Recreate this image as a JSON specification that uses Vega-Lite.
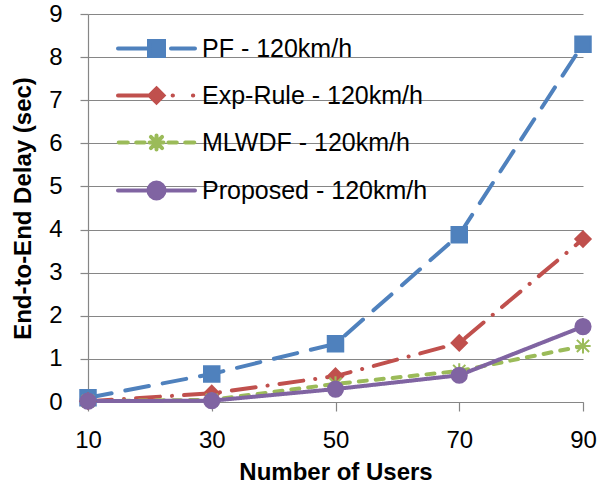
{
  "$schema": "https://vega.github.io/schema/vega-lite/v6.json",
  "width": 495,
  "height": 388,
  "autosize": {"type": "none"},
  "padding": {"left": 88, "top": 14, "right": 17, "bottom": 83},
  "background": "white",
  "config": {
    "view": {"stroke": null},
    "font": "Liberation Sans",
    "axis": {
      "labelFont": "Liberation Sans",
      "titleFont": "Liberation Sans",
      "labelFontSize": 24,
      "titleFontSize": 24,
      "labelColor": "#000000",
      "titleColor": "#000000",
      "titleFontWeight": "bold",
      "domainColor": "#868686",
      "tickColor": "#868686",
      "gridColor": "#868686",
      "domainWidth": 1.2,
      "tickWidth": 1.2,
      "gridWidth": 1.2
    }
  },
  "data": {
    "values": [
      {"users": 10, "delay": 0.1, "series": "PF - 120km/h"},
      {"users": 30, "delay": 0.65, "series": "PF - 120km/h"},
      {"users": 50, "delay": 1.35, "series": "PF - 120km/h"},
      {"users": 70, "delay": 3.88, "series": "PF - 120km/h"},
      {"users": 90, "delay": 8.3, "series": "PF - 120km/h"},
      {"users": 10, "delay": 0.02, "series": "Exp-Rule - 120km/h"},
      {"users": 30, "delay": 0.2, "series": "Exp-Rule - 120km/h"},
      {"users": 50, "delay": 0.6, "series": "Exp-Rule - 120km/h"},
      {"users": 70, "delay": 1.37, "series": "Exp-Rule - 120km/h"},
      {"users": 90, "delay": 3.78, "series": "Exp-Rule - 120km/h"},
      {"users": 10, "delay": 0.02, "series": "MLWDF - 120km/h"},
      {"users": 30, "delay": 0.05, "series": "MLWDF - 120km/h"},
      {"users": 50, "delay": 0.42, "series": "MLWDF - 120km/h"},
      {"users": 70, "delay": 0.72, "series": "MLWDF - 120km/h"},
      {"users": 90, "delay": 1.3, "series": "MLWDF - 120km/h"},
      {"users": 10, "delay": 0.02, "series": "Proposed - 120km/h"},
      {"users": 30, "delay": 0.03, "series": "Proposed - 120km/h"},
      {"users": 50, "delay": 0.3, "series": "Proposed - 120km/h"},
      {"users": 70, "delay": 0.62, "series": "Proposed - 120km/h"},
      {"users": 90, "delay": 1.75, "series": "Proposed - 120km/h"}
    ]
  },
  "encoding": {
    "x": {
      "field": "users",
      "type": "quantitative",
      "scale": {"domain": [10, 90], "nice": false, "zero": false},
      "axis": {
        "title": "Number of Users",
        "values": [10, 30, 50, 70, 90],
        "grid": false,
        "tickSize": 9,
        "labelPadding": 17,
        "titlePadding": 8,
        "labelFlush": false
      }
    },
    "y": {
      "field": "delay",
      "type": "quantitative",
      "scale": {"domain": [0, 9], "nice": false},
      "axis": {
        "title": "End-to-End Delay (sec)",
        "values": [0, 1, 2, 3, 4, 5, 6, 7, 8, 9],
        "grid": true,
        "tickSize": 8,
        "labelPadding": 18,
        "titlePadding": 13
      }
    }
  },
  "layer": [
    {
      "mark": {"type": "line", "strokeWidth": 4, "strokeCap": "round", "strokeJoin": "round"},
      "encoding": {
        "color": {
          "field": "series",
          "type": "nominal",
          "scale": {
            "domain": ["PF - 120km/h", "Exp-Rule - 120km/h", "MLWDF - 120km/h", "Proposed - 120km/h"],
            "range": ["#4F81BD", "#C0504D", "#9BBB59", "#8064A2"]
          },
          "legend": null
        },
        "strokeDash": {
          "field": "series",
          "type": "nominal",
          "scale": {
            "domain": ["PF - 120km/h", "Exp-Rule - 120km/h", "MLWDF - 120km/h", "Proposed - 120km/h"],
            "range": [[24, 14], [24, 12, 0.1, 12], [8, 9], [1, 0]]
          },
          "legend": null
        }
      }
    },
    {
      "mark": {"type": "point", "filled": true, "strokeWidth": 2, "opacity": 1},
      "encoding": {
        "shape": {
          "field": "series",
          "type": "nominal",
          "scale": {
            "domain": ["PF - 120km/h", "Exp-Rule - 120km/h", "MLWDF - 120km/h", "Proposed - 120km/h"],
            "range": ["square", "diamond", "M0,-1V1M-0.8,-0.8L0.8,0.8M-0.8,0.8L0.8,-0.8M-1,0H1", "circle"]
          },
          "legend": null
        },
        "size": {
          "field": "series",
          "type": "nominal",
          "scale": {
            "domain": ["PF - 120km/h", "Exp-Rule - 120km/h", "MLWDF - 120km/h", "Proposed - 120km/h"],
            "range": [240, 230, 210, 250]
          },
          "legend": null
        },
        "fill": {
          "field": "series",
          "type": "nominal",
          "scale": {
            "domain": ["PF - 120km/h", "Exp-Rule - 120km/h", "MLWDF - 120km/h", "Proposed - 120km/h"],
            "range": ["#4F81BD", "#C0504D", "#9BBB59", "#8064A2"]
          },
          "legend": null
        },
        "stroke": {
          "field": "series",
          "type": "nominal",
          "scale": {
            "domain": ["PF - 120km/h", "Exp-Rule - 120km/h", "MLWDF - 120km/h", "Proposed - 120km/h"],
            "range": ["#4F81BD", "#C0504D", "#9BBB59", "#8064A2"]
          },
          "legend": null
        }
      }
    },
    {
      "transform": [{"filter": "datum.users < 0"}],
      "mark": {"type": "point", "filled": false},
      "encoding": {
        "shape": {
          "field": "series",
          "type": "nominal",
          "scale": {
            "domain": ["PF - 120km/h", "Exp-Rule - 120km/h", "MLWDF - 120km/h", "Proposed - 120km/h"],
            "range": [
              "M-5.5,0H-1.07M2.07,0H5.5M-1.07,-1.07H1.07V1.07H-1.07Z",
              "M-5.5,0H-0.9M2.3,0H2.35M5.2,0H5.25M0,-1L1,0L0,1L-1,0Z",
              "M-5.4,0H-4.1M-2.9,0H-1.7M1.7,0H2.9M4.1,0H5.4M0,-1V1M-0.8,-0.8L0.8,0.8M-0.8,0.8L0.8,-0.8M-1,0H1",
              "M-5.5,0H5.5M-1.15,0A1.15,1.15 0 1,0 1.15,0A1.15,1.15 0 1,0 -1.15,0Z"
            ]
          },
          "legend": {
            "title": null,
            "orient": "none",
            "legendX": 56,
            "legendY": 22,
            "padding": 0,
            "symbolSize": 196,
            "symbolStrokeWidth": 4,
            "symbolOpacity": 1,
            "labelFont": "Liberation Sans",
            "labelFontSize": 25,
            "labelColor": "#000000",
            "labelOffset": 33,
            "rowPadding": 16,
            "labelLimit": 400,
            "encoding": {
              "symbols": {
                "fill": {"value": {"expr": "datum.value == 'PF - 120km/h' ? '#4F81BD' : datum.value == 'Exp-Rule - 120km/h' ? '#C0504D' : datum.value == 'MLWDF - 120km/h' ? '#9BBB59' : '#8064A2'"}},
                "stroke": {"value": {"expr": "datum.value == 'PF - 120km/h' ? '#4F81BD' : datum.value == 'Exp-Rule - 120km/h' ? '#C0504D' : datum.value == 'MLWDF - 120km/h' ? '#9BBB59' : '#8064A2'"}},
                "strokeCap": {"value": "round"},
                "opacity": {"value": 1}
              }
            }
          }
        }
      }
    }
  ],
  "resolve": {"scale": {"shape": "independent", "size": "independent"}}
}
